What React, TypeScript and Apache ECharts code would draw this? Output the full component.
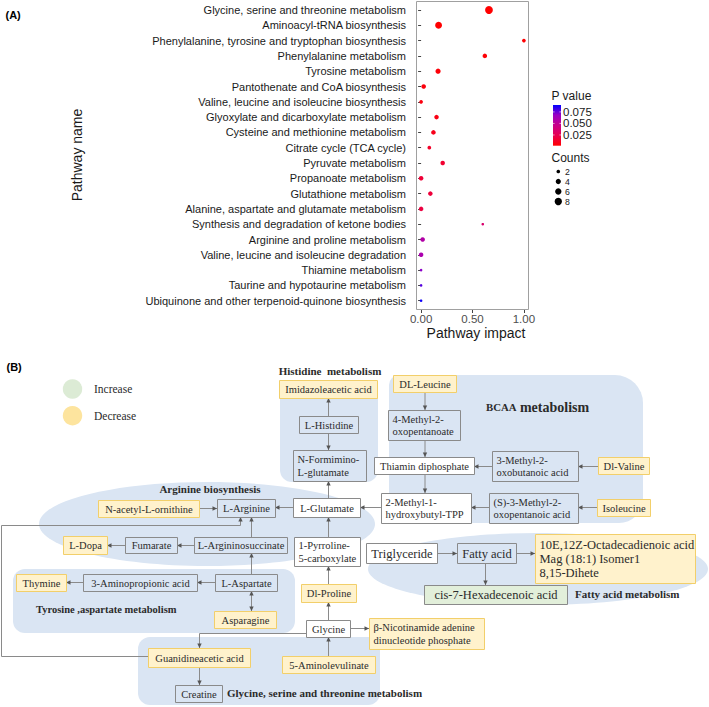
import React, { useEffect, useRef } from "react";
import * as echarts from "echarts";

// ---------------- Panel A data ----------------
const pathways = [
  "Glycine, serine and threonine metabolism",
  "Aminoacyl-tRNA biosynthesis",
  "Phenylalanine, tyrosine and tryptophan biosynthesis",
  "Phenylalanine metabolism",
  "Tyrosine metabolism",
  "Pantothenate and CoA biosynthesis",
  "Valine, leucine and isoleucine biosynthesis",
  "Glyoxylate and dicarboxylate metabolism",
  "Cysteine and methionine metabolism",
  "Citrate cycle (TCA cycle)",
  "Pyruvate metabolism",
  "Propanoate metabolism",
  "Glutathione metabolism",
  "Alanine, aspartate and glutamate metabolism",
  "Synthesis and degradation of ketone bodies",
  "Arginine and proline metabolism",
  "Valine, leucine and isoleucine degradation",
  "Thiamine metabolism",
  "Taurine and hypotaurine metabolism",
  "Ubiquinone and other terpenoid-quinone biosynthesis",
];
const impact = [0.66, 0.17, 1.0, 0.62, 0.165, 0.025, 0.0, 0.15, 0.12, 0.08, 0.21, 0.0, 0.09, 0.0, 0.6, 0.015, 0.0, 0.0, 0.0, 0.0];
const pValue = [0.0017, 0.002, 0.0025, 0.003, 0.004, 0.005, 0.006, 0.007, 0.009, 0.013, 0.015, 0.017, 0.018, 0.02, 0.035, 0.057, 0.06, 0.07, 0.078, 0.088];
const counts = [9, 7, 2, 3, 4, 3, 2, 3, 3, 2, 3, 3, 3, 3, 1, 3, 3, 1, 1, 1];
const xTicks = [0, 0.5, 1.0];
const pTicks = [0.025, 0.05, 0.075];
const countBreaks = [2, 4, 6, 8];
const pMin = 0.0017;
const pMax = 0.09;
const colorStops = ["#FF0000", "#E8004F", "#C90089", "#9A00C3", "#0000FF"];

// ---------------- Panel B diagram ----------------
type Kind = "y" | "b" | "w" | "g";
const nodes: { t: string[]; b: number[]; k: Kind; fs?: number }[] = [
  { t: ["Imidazoleacetic acid"], b: [279, 380, 377, 398], k: "y" },
  { t: ["L-Histidine"], b: [299, 416, 358, 433], k: "b" },
  { t: ["N-Formimino-", "L-glutamate"], b: [293, 450, 366, 481], k: "b" },
  { t: ["L-Glutamate"], b: [293, 498, 360, 517], k: "w" },
  { t: ["L-Arginine"], b: [217, 499, 275, 517], k: "b" },
  { t: ["N-acetyl-L-ornithine"], b: [98, 500, 199, 517], k: "y" },
  { t: ["DL-Leucine"], b: [393, 375, 456, 392], k: "y" },
  { t: ["4-Methyl-2-", "oxopentanoate"], b: [388, 410, 460, 440], k: "b" },
  { t: ["Thiamin diphosphate"], b: [374, 457, 474, 474], k: "w" },
  { t: ["3-Methyl-2-", "oxobutanoic acid"], b: [492, 451, 578, 481], k: "b" },
  { t: ["Dl-Valine"], b: [598, 457, 649, 474], k: "y" },
  { t: ["2-Methyl-1-", "hydroxybutyl-TPP"], b: [381, 493, 471, 523], k: "w" },
  { t: ["(S)-3-Methyl-2-", "oxopentanoic acid"], b: [489, 493, 578, 523], k: "b" },
  { t: ["Isoleucine"], b: [597, 499, 650, 516], k: "y" },
  { t: ["L-Argininosuccinate"], b: [194, 537, 287, 553], k: "b" },
  { t: ["Fumarate"], b: [125, 537, 177, 553], k: "b" },
  { t: ["L-Dopa"], b: [63, 536, 107, 554], k: "y" },
  { t: ["1-Pyrroline-", "5-carboxylate"], b: [294, 537, 360, 566], k: "w" },
  { t: ["Thymine"], b: [16, 574, 66, 591], k: "y" },
  { t: ["3-Aminopropionic acid"], b: [83, 574, 197, 591], k: "b" },
  { t: ["L-Aspartate"], b: [215, 574, 277, 591], k: "b" },
  { t: ["Asparagine"], b: [214, 611, 276, 628], k: "y" },
  { t: ["Dl-Proline"], b: [301, 584, 356, 602], k: "y" },
  { t: ["Glycine"], b: [306, 620, 350, 637], k: "w" },
  { t: ["\u03b2-Nicotinamide adenine", "dinucleotide phosphate"], b: [369, 618, 484, 649], k: "y" },
  { t: ["5-Aminolevulinate"], b: [282, 656, 375, 673], k: "y" },
  { t: ["Guanidineacetic acid"], b: [148, 648, 250, 667], k: "y" },
  { t: ["Creatine"], b: [175, 685, 222, 702], k: "b" },
  { t: ["Triglyceride"], b: [366, 543, 437, 563], k: "w", fs: 12.5 },
  { t: ["Fatty acid"], b: [457, 543, 516, 563], k: "b", fs: 12.5 },
  { t: ["10E,12Z-Octadecadienoic acid", "Mag (18:1) Isomer1", "8,15-Dihete"], b: [535, 534, 695, 583], k: "y", fs: 12.5 },
  { t: ["cis-7-Hexadecenoic acid"], b: [424, 585, 567, 604], k: "g", fs: 12.5 },
];
// arrows: [x1,y1,x2,y2,(both)]
const arrows: number[][] = [
  [328.5, 416, 328.5, 398], [328.5, 433, 328.5, 450], [328.5, 498, 328.5, 481],
  [293, 507.5, 275, 507.5], [199, 508.5, 217, 508.5], [381, 507.5, 360, 507.5],
  [425, 392, 425, 410], [425, 440, 425, 457], [492, 466.5, 474, 466.5], [598, 466.5, 578, 466.5],
  [425, 474, 425, 493], [489, 507.5, 471, 507.5], [597, 507.5, 578, 507.5],
  [251.5, 537, 251.5, 517], [194, 545.5, 177, 545.5], [125, 545.5, 107, 545.5],
  [328.5, 537, 328.5, 517], [251.5, 574, 251.5, 553], [215, 582.5, 197, 582.5], [83, 582.5, 66, 582.5],
  [251.5, 591, 251.5, 611, 1], [328.5, 584, 328.5, 566], [328.5, 620, 328.5, 602], [350, 628.5, 369, 628.5],
  [328.5, 656, 328.5, 637], [199.5, 667, 199.5, 685], [437, 553.5, 457, 553.5], [516, 553.5, 535, 553.5],
  [485.5, 563, 485.5, 585],
];
const polyArrows: number[][][] = [
  [[306, 633.5], [199.5, 633.5], [199.5, 648]],
  [[148, 656.5], [1.5, 656.5], [1.5, 525.5], [240.5, 525.5], [240.5, 517]],
];

const SANS = '"Liberation Sans", Arial, sans-serif';
const SERIF = '"Liberation Serif", "Times New Roman", serif';
const REGION = "#dae5f3";
const LINE = "#8a8a8a";
const HEAD = "#555555";
const TXT = "#2b2b2b";
const fills: Record<Kind, [string, string]> = {
  y: ["#fff2cc", "#f2cf6a"],
  b: ["#dae5f3", "#8a8a8a"],
  w: ["#ffffff", "#8a8a8a"],
  g: ["#e2efda", "#8a8a8a"],
};

function head(x1: number, y1: number, x2: number, y2: number) {
  const a = Math.atan2(y2 - y1, x2 - x1);
  const L = 4.5, W = 2.2;
  const bx = x2 - L * Math.cos(a), by = y2 - L * Math.sin(a);
  return {
    type: "polygon",
    z: 5,
    shape: { points: [[x2, y2], [bx + W * Math.sin(a), by - W * Math.cos(a)], [bx - W * Math.sin(a), by + W * Math.cos(a)]] },
    style: { fill: HEAD },
  };
}

function textEl(x: number, y: number, text: string, font: string, align: string, extra: any = {}) {
  return {
    type: "text",
    z: 10,
    x,
    y,
    style: { text, font, fill: TXT, align, textAlign: align, verticalAlign: "middle", textVerticalAlign: "middle", ...extra },
  };
}

function diagram(): any[] {
  const els: any[] = [];
  // regions
  els.push({ type: "ellipse", z: 1, shape: { cx: 207, cy: 524, rx: 168, ry: 42 }, style: { fill: REGION } });
  els.push({ type: "ellipse", z: 1, shape: { cx: 538, cy: 569, rx: 170, ry: 36 }, style: { fill: REGION } });
  els.push({ type: "rect", z: 1, shape: { x: 280, y: 380, width: 98, height: 102, r: 12 }, style: { fill: REGION } });
  els.push({ type: "rect", z: 1, shape: { x: 389, y: 375, width: 254, height: 148, r: [10, 28, 24, 18] }, style: { fill: REGION } });
  els.push({ type: "rect", z: 1, shape: { x: 13, y: 569, width: 282, height: 64, r: 12 }, style: { fill: REGION } });
  els.push({ type: "rect", z: 1, shape: { x: 138, y: 637, width: 242, height: 68, r: 12 }, style: { fill: REGION } });
  // legend
  els.push({ type: "circle", z: 2, shape: { cx: 72.5, cy: 389, r: 9.7 }, style: { fill: "#dcebd5" } });
  els.push({ type: "circle", z: 2, shape: { cx: 72.5, cy: 415.7, r: 9.7 }, style: { fill: "#fde49e" } });
  els.push(textEl(94, 389, "Increase", `11.5px ${SERIF}`, "left"));
  els.push(textEl(94, 415.7, "Decrease", `11.5px ${SERIF}`, "left"));
  // lines
  arrows.forEach((a) => {
    els.push({ type: "line", z: 4, shape: { x1: a[0], y1: a[1], x2: a[2], y2: a[3] }, style: { stroke: LINE, lineWidth: 1 } });
    els.push(head(a[0], a[1], a[2], a[3]));
    if (a[4]) els.push(head(a[2], a[3], a[0], a[1]));
  });
  polyArrows.forEach((p) => {
    els.push({ type: "polyline", z: 4, shape: { points: p }, style: { stroke: LINE, lineWidth: 1, fill: null } });
    const n = p.length;
    els.push(head(p[n - 2][0], p[n - 2][1], p[n - 1][0], p[n - 1][1]));
  });
  // boxes
  nodes.forEach((n) => {
    const [x1, y1, x2, y2] = n.b;
    const [f, s] = fills[n.k];
    els.push({ type: "rect", z: 6, shape: { x: x1 + 0.5, y: y1 + 0.5, width: x2 - x1, height: y2 - y1 }, style: { fill: f, stroke: s, lineWidth: 1 } });
    const fs = n.fs || 10.5;
    const font = `${fs}px ${SERIF}`;
    if (n.t.length === 1) {
      els.push(textEl((x1 + x2) / 2 + 0.5, (y1 + y2) / 2 + 0.5, n.t[0], font, "center"));
    } else {
      els.push(textEl(x1 + 4.5, (y1 + y2) / 2 + 0.5, n.t.join("\n"), font, "left", { lineHeight: fs === 10.5 ? 12.4 : 14.3 }));
    }
  });
  // titles
  els.push(textEl(330, 371, "Histidine  metabolism", `bold 11px ${SERIF}`, "center"));
  els.push(textEl(210, 489, "Arginine biosynthesis", `bold 11px ${SERIF}`, "center"));
  els.push(textEl(36, 609.5, "Tyrosine ,aspartate metabolism", `bold 10.5px ${SERIF}`, "left"));
  els.push(textEl(227, 693, "Glycine, serine and threonine metabolism", `bold 11px ${SERIF}`, "left"));
  els.push(textEl(575, 593.5, "Fatty acid metabolism", `bold 11px ${SERIF}`, "left"));
  els.push({
    type: "text", z: 10, x: 486, y: 407,
    style: {
      text: "{a|BCAA} {b|metabolism}", fill: TXT, align: "left", textAlign: "left", verticalAlign: "middle", textVerticalAlign: "middle",
      rich: { a: { font: `bold 10.8px ${SERIF}`, fill: TXT }, b: { font: `bold 14px ${SERIF}`, fill: TXT } },
    },
  });
  els.push(textEl(6.5, 367, "(B)", `bold 11px ${SANS}`, "left", { fill: "#000" }));
  return els;
}

function legendA(): any[] {
  const els: any[] = [];
  const barTop = 105, barH = 40.7, barBot = barTop + barH;
  els.push({ type: "rect", z: 3, shape: { x: 416.5, y: 1.5, width: 112, height: 308 }, style: { fill: null, stroke: "#a0a0a0", lineWidth: 1 } });
  els.push(textEl(5.5, 15, "(A)", `bold 11px ${SANS}`, "left", { fill: "#000" }));
  els.push(textEl(77, 155, "Pathway name", `14px ${SANS}`, "center", { fill: "#1a1a1a" }));
  els[els.length - 1].rotation = Math.PI / 2;
  els.push(textEl(476, 333, "Pathway impact", `14px ${SANS}`, "center", { fill: "#1a1a1a" }));
  els.push(textEl(551.5, 96, "P value", `12px ${SANS}`, "left", { fill: "#1a1a1a" }));
  els.push({
    type: "rect", z: 3, shape: { x: 553, y: barTop, width: 8, height: barH },
    style: {
      fill: new echarts.graphic.LinearGradient(0, 0, 0, 1, colorStops.slice().reverse().map((c, i) => ({ offset: i / (colorStops.length - 1), color: c }))),
    },
  });
  pTicks.forEach((p) => {
    const y = barBot - ((p - pMin) / (pMax - pMin)) * barH;
    els.push({ type: "line", z: 4, shape: { x1: 553, y1: y, x2: 554.6, y2: y }, style: { stroke: "#fff", lineWidth: 0.6 } });
    els.push({ type: "line", z: 4, shape: { x1: 559.4, y1: y, x2: 561, y2: y }, style: { stroke: "#fff", lineWidth: 0.6 } });
    els.push(textEl(563, y, p.toFixed(3), `11.5px ${SANS}`, "left", { fill: "#1a1a1a", lineHeight: 11 }));
  });
  els.push(textEl(551.5, 158, "Counts", `12px ${SANS}`, "left", { fill: "#1a1a1a" }));
  const y0 = 171.5, step = 10;
  countBreaks.forEach((c, i) => {
    els.push({ type: "circle", z: 3, shape: { cx: 558.3, cy: y0 + i * step, r: sizeOf(c) / 2 }, style: { fill: "#000" } });
    els.push(textEl(565, y0 + i * step, String(c), `8.7px ${SANS}`, "left", { fill: "#1a1a1a", lineHeight: 9 }));
  });
  return els;
}

function sizeOf(c: number) {
  return Math.sqrt(c) * 2.6;
}

export default function App() {
  const ref = useRef<HTMLDivElement>(null);
  useEffect(() => {
    if (!ref.current) return;
    const chart = echarts.init(ref.current, null, { renderer: "svg" });
    const data = pathways.map((p, i) => [impact[i], p, pValue[i], counts[i]]);
    chart.setOption({
      animation: false,
      backgroundColor: "#ffffff",
      grid: { left: 421.1, width: 102.8, top: 2.35, height: 306 },
      xAxis: {
        type: "value", min: xTicks[0], max: xTicks[xTicks.length - 1], interval: 0.5, offset: 1.65,
        axisLine: { show: false }, splitLine: { show: false },
        axisTick: { show: true, length: 3, lineStyle: { color: "#444" } },
        axisLabel: { formatter: (v: number) => v.toFixed(2), fontSize: 11.5, color: "#4d4d4d", margin: 3, fontFamily: SANS },
      },
      yAxis: {
        type: "category", data: pathways, inverse: true, offset: 5.1,
        axisLine: { show: false }, splitLine: { show: false },
        axisTick: { show: true, length: 3, alignWithLabel: true, interval: 0, lineStyle: { color: "#444" } },
        axisLabel: { interval: 0, fontSize: 11, color: "#1a1a1a", margin: 10, fontFamily: SANS },
      },
      visualMap: { show: false, type: "continuous", dimension: 2, min: pMin, max: pMax, seriesIndex: 0, inRange: { color: colorStops } },
      series: [
        {
          type: "scatter", data, clip: false,
          symbolSize: (v: any) => sizeOf(v[3]),
          itemStyle: { opacity: 1 },
        },
      ],
      graphic: { elements: [...legendA(), ...diagram()] },
    });
    return () => chart.dispose();
  }, []);
  return <div ref={ref} style={{ position: "absolute", left: 0, top: 0, width: 709, height: 707 }} />;
}
